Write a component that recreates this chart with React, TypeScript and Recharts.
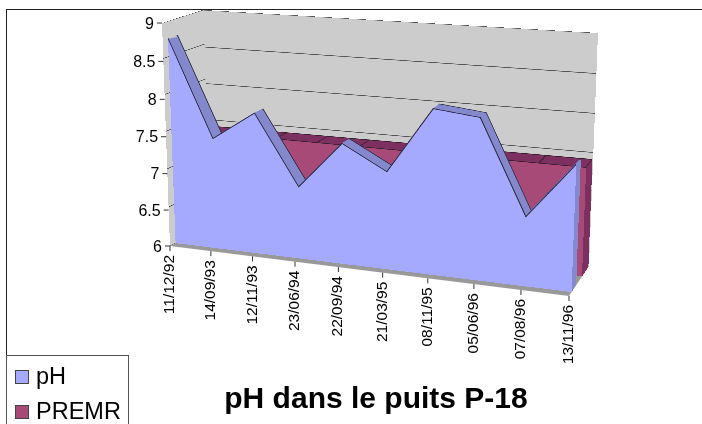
import React from 'react';
import { Area, AreaChart, CartesianGrid, Legend, XAxis, YAxis } from 'recharts';

const dates = ['11/12/92', '14/09/93', '12/11/93', '23/06/94', '22/09/94', '21/03/95', '08/11/95', '05/06/96', '07/08/96', '13/11/96'];
const phValues = [8.78, 7.5, 7.89, 6.97, 7.6, 7.29, 8.15, 8.09, 6.9, 7.62];
const premrValues = [7.42, 7.42, 7.42, 7.42, 7.42, 7.42, 7.42, 7.42, 7.42, 7.42];
const valueTicks = [6, 6.5, 7, 7.5, 8, 8.5, 9];

const FONT = '"Liberation Sans", Arial, sans-serif';
const PW = 800;
const PH = 600;

type Pt = [number, number];
type Quad = [Pt, Pt, Pt, Pt]; // TL, TR, BR, BL

// outline of the 3D box
const FRONT: Quad = [[162, 23], [578, 53], [569, 296], [170, 246]];
const BACK: Quad = [[203, 10], [598, 33], [589, 266], [213, 224]];

const mix = (a: Pt, b: Pt, t: number): Pt => [a[0] + (b[0] - a[0]) * t, a[1] + (b[1] - a[1]) * t];
const atDepth = (d: number): Quad => [mix(FRONT[0], BACK[0], d), mix(FRONT[1], BACK[1], d), mix(FRONT[2], BACK[2], d), mix(FRONT[3], BACK[3], d)];

// perspective map of the unit square onto a quad
const solve = (q: Quad) => {
  const [[x0, y0], [x1, y1], [x2, y2], [x3, y3]] = q;
  const dx1 = x1 - x2, dx2 = x3 - x2, sx = x0 - x1 + x2 - x3;
  const dy1 = y1 - y2, dy2 = y3 - y2, sy = y0 - y1 + y2 - y3;
  const det = dx1 * dy2 - dx2 * dy1;
  const g = (sx * dy2 - dx2 * sy) / det;
  const h = (dx1 * sy - sx * dy1) / det;
  return { a: x1 - x0 + g * x1, b: x3 - x0 + h * x3, c: x0, d: y1 - y0 + g * y1, e: y3 - y0 + h * y3, f: y0, g, h };
};

const project = (q: Quad, u: number, v: number): Pt => {
  const m = solve(q);
  const w = m.g * u + m.h * v + 1;
  return [(m.a * u + m.b * v + m.c) / w, (m.d * u + m.e * v + m.f) / w];
};

const planeStyle = (q: Quad, w = PW, h = PH): React.CSSProperties => {
  const m = solve(q);
  const cells = [m.a / w, m.d / w, 0, m.g / w, m.b / h, m.e / h, 0, m.h / h, 0, 0, 1, 0, m.c, m.f, 0, 1];
  return { position: 'absolute', left: 0, top: 0, width: w, height: h, transformOrigin: '0 0', transform: `matrix3d(${cells.join(',')})` };
};

const toRows = (values: number[]) => dates.map((date, i) => ({ date, value: values[i] }));

const Wall = ({ quad }: { quad: Quad }) => (
  <div style={planeStyle(quad)}>
    <AreaChart width={PW} height={PH} data={toRows(phValues)} margin={{ top: 0, right: 0, bottom: 0, left: 0 }}>
      <CartesianGrid vertical={false} fill="#cccccc" fillOpacity={1} stroke="#555555" strokeWidth={2.2} />
      <XAxis dataKey="date" hide />
      <YAxis hide domain={[6, 9]} ticks={valueTicks} />
      <Area dataKey="value" fill="none" stroke="none" dot={false} activeDot={false} legendType="none" isAnimationActive={false} />
    </AreaChart>
  </div>
);

const SeriesPlane = ({ depth, values, fill, stroke, strokeWidth, dot }: any) => (
  <div style={planeStyle(atDepth(depth))}>
    <AreaChart width={PW} height={PH} data={toRows(values)} margin={{ top: 0, right: 0, bottom: 0, left: 0 }}>
      <XAxis dataKey="date" hide />
      <YAxis hide domain={[6, 9]} ticks={valueTicks} />
      <Area type="linear" dataKey="value" fill={fill} fillOpacity={1} stroke={stroke} strokeWidth={strokeWidth} dot={dot || false} activeDot={false} isAnimationActive={false} />
    </AreaChart>
  </div>
);

// a run of planes between two depths, back to front, gives the solid ribbon
const Solid = ({ from, to, steps, values, face, side, edge, segmentDots }: any) => {
  const planes = [];
  for (let i = 0; i < steps; i++) {
    const d = to + ((from - to) * i) / steps;
    planes.push(
      <SeriesPlane
        key={i}
        depth={d}
        values={values}
        fill={side}
        stroke={i === 0 ? edge : side}
        strokeWidth={i === 0 ? 2.2 : 1.5}
        dot={segmentDots ? { r: 1.6, fill: edge, stroke: 'none' } : false}
      />
    );
  }
  return (
    <>
      {planes}
      <SeriesPlane depth={from} values={values} fill={face} stroke={edge} strokeWidth={2.2} />
    </>
  );
};

const DateTick = ({ x, payload }: any) => {
  const [tx, ty] = project(FRONT, (x - 1) / 400, 1);
  return (
    <g>
      <line x1={tx} y1={ty} x2={tx} y2={ty + 5} stroke="#333333" />
      <text x={tx + 4} y={ty + 9} transform={`rotate(-90 ${tx + 4} ${ty + 9})`} textAnchor="end" fontFamily={FONT} fontSize={15.5} fill="#000000">
        {payload.value}
      </text>
    </g>
  );
};

const ValueTick = ({ y, payload }: any) => {
  const [tx, ty] = project(FRONT, 0, (y - 20) / 300);
  return (
    <g>
      <line x1={tx - 5} y1={ty} x2={tx} y2={ty} stroke="#333333" />
      <text x={tx - 8} y={ty + 5.5} textAnchor="end" fontFamily={FONT} fontSize={16} fill="#000000">
        {payload.value}
      </text>
    </g>
  );
};

const renderLegend = ({ payload }: any) => (
  <div style={{ fontFamily: FONT, fontSize: 23.5, color: '#000000' }}>
    {(payload || []).map((item: any) => (
      <div key={item.value} style={{ display: 'flex', alignItems: 'center', height: 35, paddingLeft: 8 }}>
        <span style={{ width: 12, height: 12, background: item.color, border: '1px solid #444444', marginRight: 7 }} />
        {item.value}
      </div>
    ))}
  </div>
);

export default function App() {
  return (
    <div style={{ position: 'absolute', left: 0, top: 0, width: 702, height: 424, background: '#ffffff', overflow: 'hidden' }}>
      <div style={{ position: 'absolute', left: 6, top: 9, width: 696, height: 346, borderLeft: '1px solid #222222', borderTop: '1px solid #222222' }} />

      <Wall quad={[FRONT[0], BACK[0], BACK[3], FRONT[3]]} />
      <Wall quad={BACK} />
      <div style={{ ...planeStyle([BACK[3], BACK[2], FRONT[2], FRONT[3]]), background: '#999999' }} />

      <Solid from={0.65} to={0.97} steps={10} values={premrValues} face="#a84a78" side="#7d3060" edge="#3a2030" segmentDots />
      <Solid from={0.13} to={0.36} steps={10} values={phValues} face="#a6aaff" side="#8488cc" edge="#30304a" />

      <div style={{ position: 'absolute', left: 0, top: 0 }}>
        <AreaChart width={702} height={424} data={toRows(phValues)} margin={{ top: 20, right: 301, bottom: 103, left: 0 }}>
          <XAxis dataKey="date" height={1} interval={0} axisLine={false} tickLine={false} tick={DateTick} />
          <YAxis width={1} domain={[6, 9]} ticks={valueTicks} axisLine={false} tickLine={false} tick={ValueTick} />
          <Area dataKey="value" fill="none" stroke="none" dot={false} activeDot={false} legendType="none" isAnimationActive={false} />
        </AreaChart>
      </div>

      <div style={{ position: 'absolute', left: 6, top: 355, width: 123, height: 69, boxSizing: 'border-box', borderTop: '1px solid #555555', borderRight: '1px solid #555555', borderLeft: '1px solid #555555' }}>
        <AreaChart width={121} height={68} data={toRows(phValues)} margin={{ top: 0, right: 0, bottom: 0, left: 0 }}>
          <Legend verticalAlign="top" content={renderLegend} itemSorter={null} wrapperStyle={{ top: 3, left: 0 }} />
          <Area dataKey="value" name="pH" stroke="#a6aaff" strokeOpacity={0} fillOpacity={0} dot={false} isAnimationActive={false} />
          <Area dataKey="value" name="PREMR" stroke="#a84a78" strokeOpacity={0} fillOpacity={0} dot={false} isAnimationActive={false} />
        </AreaChart>
      </div>

      <div style={{ position: 'absolute', left: 176, width: 400, top: 381, textAlign: 'center', fontFamily: FONT, fontWeight: 'bold', fontSize: 30, color: '#000000' }}>
        pH dans le puits P-18
      </div>
    </div>
  );
}
